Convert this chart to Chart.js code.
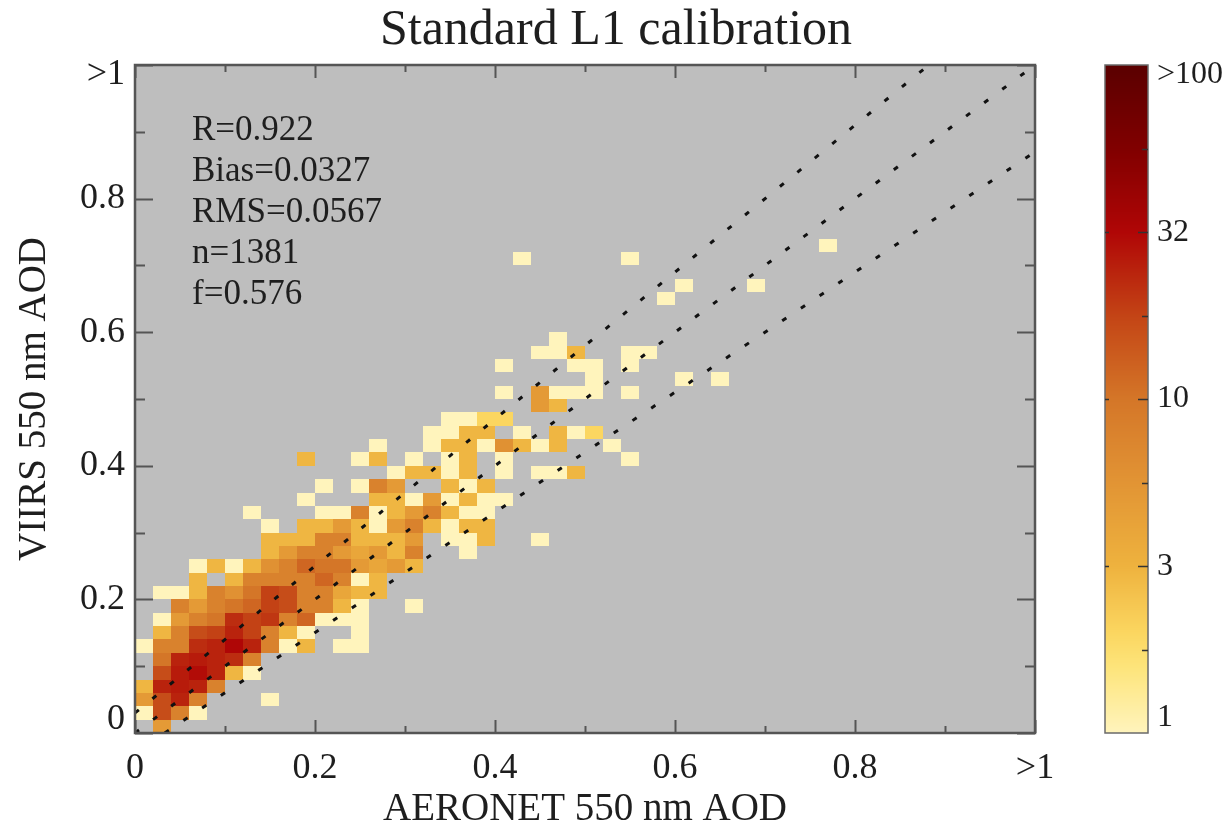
<!DOCTYPE html>
<html>
<head>
<meta charset="utf-8">
<script src="https://cdn.jsdelivr.net/npm/chart.js@4.4.1/dist/chart.umd.min.js"></script>
<style>
  html, body { margin: 0; padding: 0; background: #fff; }
  #wrap { width: 1232px; height: 829px; }
</style>
</head>
<body>
<div id="wrap"><canvas id="aod-chart" width="1232" height="829"></canvas></div>
<script>
// VIIRS vs AERONET 550 nm AOD, 2D histogram (0.02 bins)
const binWidth = 0.02;

// lower edge of each VIIRS bin row that has data
const viirsAod = [0.00, 0.02, 0.04, 0.06, 0.08, 0.10, 0.12, 0.14, 0.16, 0.18,
  0.20, 0.22, 0.24, 0.26, 0.28, 0.30, 0.32, 0.34, 0.36, 0.38,
  0.40, 0.42, 0.44, 0.46, 0.48, 0.50, 0.52, 0.54, 0.56, 0.58,
  0.64, 0.66, 0.70, 0.72];

// lower edges of the AERONET bins filled in each row
const aeronetAod = [
  [0.02],
  [0.00, 0.02, 0.04, 0.06],
  [0.00, 0.02, 0.04, 0.06, 0.14],
  [0.00, 0.02, 0.04, 0.06, 0.08],
  [0.02, 0.04, 0.06, 0.08, 0.10, 0.12],
  [0.02, 0.04, 0.06, 0.08, 0.10, 0.12],
  [0.00, 0.02, 0.04, 0.06, 0.08, 0.10, 0.12, 0.14, 0.16, 0.18, 0.22, 0.24],
  [0.02, 0.04, 0.06, 0.08, 0.10, 0.12, 0.14, 0.16, 0.18, 0.24],
  [0.02, 0.04, 0.06, 0.08, 0.10, 0.12, 0.14, 0.16, 0.18, 0.20, 0.22, 0.24],
  [0.04, 0.06, 0.08, 0.10, 0.12, 0.14, 0.16, 0.18, 0.20, 0.22, 0.24, 0.30],
  [0.02, 0.04, 0.06, 0.08, 0.10, 0.12, 0.14, 0.16, 0.18, 0.20, 0.22, 0.24, 0.26],
  [0.06, 0.10, 0.12, 0.14, 0.16, 0.18, 0.20, 0.22, 0.24, 0.26],
  [0.06, 0.08, 0.10, 0.12, 0.14, 0.16, 0.18, 0.20, 0.22, 0.24, 0.26, 0.28, 0.30],
  [0.14, 0.16, 0.18, 0.20, 0.22, 0.24, 0.26, 0.28, 0.30, 0.36],
  [0.14, 0.16, 0.18, 0.20, 0.22, 0.24, 0.26, 0.28, 0.30, 0.34, 0.36, 0.38, 0.44],
  [0.14, 0.18, 0.20, 0.22, 0.24, 0.26, 0.28, 0.30, 0.32, 0.34, 0.36, 0.38],
  [0.12, 0.20, 0.22, 0.24, 0.26, 0.28, 0.30, 0.32, 0.34, 0.36, 0.38],
  [0.18, 0.26, 0.28, 0.30, 0.32, 0.34, 0.36, 0.38, 0.40],
  [0.20, 0.24, 0.26, 0.28, 0.34, 0.36, 0.38],
  [0.28, 0.30, 0.32, 0.34, 0.36, 0.40, 0.44, 0.46, 0.48],
  [0.18, 0.24, 0.26, 0.30, 0.34, 0.36, 0.40, 0.54],
  [0.26, 0.32, 0.34, 0.36, 0.38, 0.40, 0.42, 0.44, 0.46, 0.52],
  [0.32, 0.34, 0.36, 0.38, 0.42, 0.46, 0.48, 0.50],
  [0.34, 0.36, 0.38, 0.40],
  [0.44, 0.46],
  [0.40, 0.44, 0.46, 0.48, 0.50, 0.54],
  [0.50, 0.60, 0.64],
  [0.40, 0.48, 0.50, 0.54],
  [0.44, 0.46, 0.48, 0.54, 0.56],
  [0.46],
  [0.58],
  [0.60, 0.68],
  [0.42, 0.54],
  [0.76],
];

// number of matchups in each cell (same layout as aeronetAod)
const cellCounts = [
  [5],
  [1, 16, 8, 1],
  [5, 16, 24, 8, 1],
  [3, 24, 26, 24, 8],
  [16, 26, 30, 24, 3, 1],
  [10, 24, 26, 24, 22, 8],
  [1, 8, 8, 22, 24, 32, 24, 8, 1, 3, 1, 1],
  [3, 8, 16, 18, 24, 18, 8, 3, 1, 1],
  [1, 5, 8, 10, 22, 18, 20, 8, 12, 1, 1, 1],
  [8, 5, 8, 10, 12, 18, 16, 8, 8, 3, 1, 1],
  [1, 1, 3, 8, 6, 10, 18, 16, 8, 8, 4, 3, 3],
  [3, 3, 8, 8, 8, 8, 12, 8, 1, 3],
  [1, 3, 1, 3, 6, 8, 12, 10, 10, 5, 4, 5, 3],
  [3, 5, 8, 8, 5, 4, 5, 3, 8, 1],
  [3, 3, 3, 8, 8, 3, 3, 3, 5, 1, 1, 3, 1],
  [1, 3, 3, 5, 3, 1, 5, 8, 3, 1, 3, 3],
  [1, 1, 1, 8, 1, 3, 5, 8, 3, 1, 1],
  [1, 3, 3, 1, 5, 1, 3, 1, 1],
  [1, 1, 8, 5, 3, 1, 3],
  [1, 3, 3, 1, 3, 1, 1, 1, 3],
  [3, 1, 3, 1, 1, 3, 1, 1],
  [1, 1, 3, 3, 1, 6, 3, 1, 3, 1],
  [1, 1, 3, 3, 1, 3, 1, 2],
  [1, 1, 2, 2],
  [5, 3],
  [1, 5, 1, 1, 1, 1],
  [1, 1, 1],
  [1, 1, 1, 1],
  [1, 1, 3, 1, 1],
  [1],
  [1],
  [1, 1],
  [1, 1],
  [1],
];

// 1:1 line and expected error envelope end points
const oneToOneX = [0, 1];
const oneToOneY = [0, 1];
const eeUpperX = [0, 0.882];
const eeUpperY = [0.03, 1];
const eeLowerX = [0.033, 1];
const eeLowerY = [0, 0.87];

const statLines = ['R=0.922', 'Bias=0.0327', 'RMS=0.0567', 'n=1381', 'f=0.576'];

// colour bar (log scale)
const colorbarValues = [1, 3.16, 10, 31.6, 100];
const colorbarLabels = ['1', '3', '10', '32', '>100'];

// colour table, position = log10(count) / 2
const colorStops = [0, 0.1, 0.15, 0.25, 0.4, 0.5, 0.62, 0.75, 0.87, 1];
const stopColors = [
  [255, 244, 188], [253, 228, 122], [251, 214, 96], [238, 178, 62],
  [223, 142, 50], [212, 118, 40], [196, 70, 22], [176, 6, 6],
  [130, 0, 0], [90, 0, 0],
];

const serif = "'Liberation Serif', 'DejaVu Serif', serif";
const textColor = '#1e1e1e';

function colorForCount(n) {
  const t = Math.min(1, Math.max(0, Math.log10(n) / 2));
  for (let i = 1; i < colorStops.length; i++) {
    if (t <= colorStops[i]) {
      const f = (t - colorStops[i - 1]) / (colorStops[i] - colorStops[i - 1]);
      const a = stopColors[i - 1];
      const b = stopColors[i];
      const c = a.map((v, k) => Math.round(v + (b[k] - v) * f));
      return `rgb(${c[0]}, ${c[1]}, ${c[2]})`;
    }
  }
  const last = stopColors[stopColors.length - 1];
  return `rgb(${last[0]}, ${last[1]}, ${last[2]})`;
}

function pairs(xs, ys) {
  return xs.map((x, i) => ({ x: x, y: ys[i] }));
}

const cells = [];
viirsAod.forEach((y, r) => {
  aeronetAod[r].forEach((x, k) => {
    cells.push({ x: x, y: y, n: cellCounts[r][k] });
  });
});

function isMajor(v) {
  return Math.round(v * 10) % 2 === 0;
}

function tickLabel(v) {
  const k = Math.round(v * 10);
  if (k % 2) return '';
  if (k === 10) return '>1';
  if (k === 0) return '0';
  return (k / 10).toFixed(1);
}

const heatmapPlugin = {
  id: 'heatmap',
  beforeDatasetsDraw(chart) {
    const { ctx, chartArea: area, scales: { x, y } } = chart;
    ctx.save();
    ctx.fillStyle = '#bebebe';
    ctx.fillRect(area.left, area.top, area.right - area.left, area.bottom - area.top);

    chart.data.datasets[0].data.forEach((c) => {
      const x0 = Math.round(x.getPixelForValue(c.x));
      const x1 = Math.round(x.getPixelForValue(c.x + binWidth));
      const y0 = Math.round(y.getPixelForValue(c.y + binWidth));
      const y1 = Math.round(y.getPixelForValue(c.y));
      ctx.fillStyle = colorForCount(c.n);
      ctx.fillRect(x0, y0, x1 - x0, y1 - y0);
    });
    ctx.restore();
  },
  afterDatasetsDraw(chart) {
    const { ctx, chartArea: area, scales: { x, y, cb } } = chart;
    ctx.save();

    // inward ticks on all four sides
    ctx.strokeStyle = '#555';
    ctx.lineWidth = 2;
    ctx.beginPath();
    x.ticks.forEach((t) => {
      const px = Math.round(x.getPixelForValue(t.value)) + 0.5;
      const len = isMajor(t.value) ? 13 : 7;
      ctx.moveTo(px, area.bottom);
      ctx.lineTo(px, area.bottom - len);
      ctx.moveTo(px, area.top);
      ctx.lineTo(px, area.top + len);
    });
    y.ticks.forEach((t) => {
      const py = Math.round(y.getPixelForValue(t.value)) + 0.5;
      const len = isMajor(t.value) ? 18 : 10;
      ctx.moveTo(area.left, py);
      ctx.lineTo(area.left + len, py);
      ctx.moveTo(area.right, py);
      ctx.lineTo(area.right - len, py);
    });
    ctx.stroke();

    // frame
    ctx.strokeStyle = '#555';
    ctx.lineWidth = 2.5;
    ctx.strokeRect(area.left, area.top, area.right - area.left, area.bottom - area.top);

    // y tick labels, the end ones kept inside the axis range
    ctx.fillStyle = textColor;
    ctx.font = `36px ${serif}`;
    ctx.textAlign = 'right';
    ctx.textBaseline = 'middle';
    y.ticks.forEach((t) => {
      const label = tickLabel(t.value);
      if (!label) return;
      let py = y.getPixelForValue(t.value);
      py = Math.min(Math.max(py, area.top + 10), area.bottom - 13);
      ctx.fillText(label, area.left - 10, py);
    });

    // statistics
    ctx.font = `35px ${serif}`;
    ctx.textAlign = 'left';
    statLines.forEach((s, i) => {
      ctx.fillText(s, area.left + 57, area.top + 66 + i * 41);
    });

    // colour bar
    const barLeft = 1105;
    const barRight = 1148;
    const barTop = Math.round(cb.getPixelForValue(100));
    const barBottom = Math.round(cb.getPixelForValue(1));
    for (let py = barTop; py < barBottom; py++) {
      ctx.fillStyle = colorForCount(cb.getValueForPixel(py + 0.5));
      ctx.fillRect(barLeft, py, barRight - barLeft, 1);
    }
    ctx.strokeStyle = '#6a6a6a';
    ctx.lineWidth = 1.5;
    ctx.strokeRect(barLeft, barTop, barRight - barLeft, barBottom - barTop);

    ctx.strokeStyle = '#333';
    ctx.lineWidth = 1.5;
    ctx.beginPath();
    [0.5, 1, 1.5].forEach((e) => {
      const py = Math.round(cb.getPixelForValue(Math.pow(10, e))) + 0.5;
      ctx.moveTo(barLeft, py);
      ctx.lineTo(barLeft + 4, py);
      ctx.moveTo(barRight, py);
      ctx.lineTo(barRight - 10, py);
    });
    [0.25, 0.75, 1.25, 1.75].forEach((e) => {
      const py = Math.round(cb.getPixelForValue(Math.pow(10, e))) + 0.5;
      ctx.moveTo(barRight, py);
      ctx.lineTo(barRight - 6, py);
    });
    ctx.stroke();

    ctx.fillStyle = textColor;
    ctx.font = `32px ${serif}`;
    ctx.textBaseline = 'middle';
    colorbarValues.forEach((v, i) => {
      let py = cb.getPixelForValue(v);
      py = Math.min(Math.max(py, barTop + 10), barBottom - 15);
      ctx.fillText(colorbarLabels[i], barRight + 9, py);
    });

    ctx.restore();
  },
};

const dotted = {
  showLine: true,
  borderColor: '#111',
  borderWidth: 3,
  borderDash: [5, 17.5],
  pointRadius: 0,
  pointHoverRadius: 0,
  fill: false,
};

const ctx = document.getElementById('aod-chart').getContext('2d');
const aodChart = new Chart(ctx, {
  type: 'scatter',
  data: {
    datasets: [
      { label: 'counts', data: cells, pointRadius: 0, pointHoverRadius: 0 },
      Object.assign({ label: '1:1', data: pairs(oneToOneX, oneToOneY) }, dotted),
      Object.assign({ label: 'EE upper', data: pairs(eeUpperX, eeUpperY) }, dotted),
      Object.assign({ label: 'EE lower', data: pairs(eeLowerX, eeLowerY) }, dotted),
    ],
  },
  options: {
    responsive: false,
    animation: false,
    devicePixelRatio: 1,
    layout: { padding: 0 },
    plugins: {
      legend: { display: false },
      tooltip: { enabled: false },
      title: {
        display: true,
        text: 'Standard L1 calibration',
        color: textColor,
        font: { family: serif, size: 50, weight: 'normal' },
        padding: { top: 1, bottom: 4 },
      },
    },
    scales: {
      x: {
        type: 'linear',
        position: 'bottom',
        min: 0,
        max: 1,
        grid: { display: false, drawTicks: false },
        border: { display: false },
        ticks: {
          stepSize: 0.1,
          autoSkip: false,
          maxRotation: 0,
          padding: 14,
          color: textColor,
          font: { family: serif, size: 36 },
          callback: (v) => tickLabel(v),
        },
        title: {
          display: true,
          text: 'AERONET 550 nm AOD',
          color: textColor,
          font: { family: serif, size: 39, lineHeight: 1 },
          padding: { top: 0, bottom: 0 },
        },
        afterFit: (scale) => { scale.height = 96; },
      },
      y: {
        type: 'linear',
        position: 'left',
        min: 0,
        max: 1,
        grid: { display: false, drawTicks: false },
        border: { display: false },
        // labels are drawn by the plugin so the end ones can sit inside
        ticks: { stepSize: 0.1, display: false },
        title: {
          display: true,
          text: 'VIIRS 550 nm AOD',
          color: textColor,
          font: { family: serif, size: 39, lineHeight: 1.2 },
          padding: { top: 11, bottom: 0 },
        },
        afterFit: (scale) => { scale.width = 135; },
      },
      // colour bar scale, its box holds the bar on the right
      cb: {
        type: 'logarithmic',
        position: 'right',
        min: 1,
        max: 100,
        grid: { display: false, drawTicks: false },
        border: { display: false },
        ticks: { display: false },
        afterFit: (scale) => { scale.width = 197; },
      },
    },
  },
  plugins: [heatmapPlugin],
});
</script>
</body>
</html>
